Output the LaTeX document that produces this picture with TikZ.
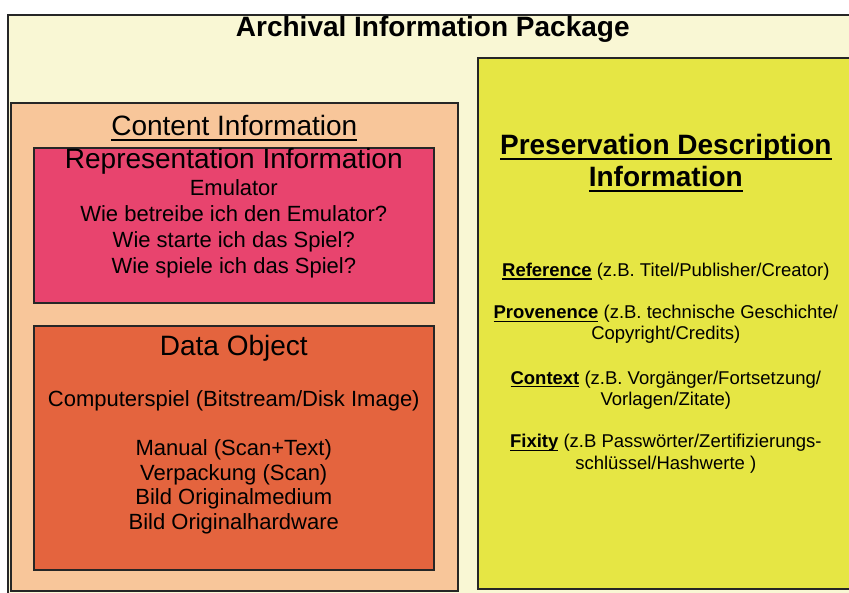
\documentclass[tikz,border=0pt]{standalone}
\usepackage{fontspec}
\setmainfont{Liberation Sans}
\usetikzlibrary{positioning}
\definecolor{aipcream}{RGB}{249,247,212}
\definecolor{cipeach}{RGB}{248,198,154}
\definecolor{ripink}{RGB}{232,68,110}
\definecolor{dored}{RGB}{228,100,62}
\definecolor{pdiyellow}{RGB}{230,230,68}
\newcommand{\ulbox}[1]{\leavevmode\setbox0=\hbox{#1}\rlap{\vrule width\wd0 height -0.11em depth 0.18em}\box0\relax}

\begin{document}
\begin{tikzpicture}[x=1pt, y=-1pt,
    box/.style={draw=black!85, line width=1.6pt, anchor=north west, inner sep=0pt},
    aipbox/.style={box, fill=aipcream},
    cibox/.style={box, fill=cipeach},
    ribox/.style={box, fill=ripink},
    dobox/.style={box, fill=dored},
    pdibox/.style={box, fill=pdiyellow},
    heading/.style={inner sep=0pt, align=center, font=\fontsize{28}{32}\selectfont},
    boldhead/.style={heading, font=\fontsize{28}{32}\selectfont\bfseries},
    bodytext/.style={inner sep=0pt, align=center, font=\fontsize{22}{26}\selectfont},
    listtext/.style={bodytext, font=\fontsize{22}{24.5}\selectfont},
    pditext/.style={inner sep=0pt, align=center, font=\fontsize{18.5}{21.5}\selectfont},
]
\useasboundingbox (0,0) rectangle (849,592);
\clip (0,0) rectangle (849,592);

\node[aipbox, minimum width=850pt, minimum height=600pt] (aip) at (7,14) {};
\node[cibox, minimum width=447pt, minimum height=488pt] (content) at (10,102) {};
\node[ribox, minimum width=400pt, minimum height=155pt] (repinfo) at (33,147) {};
\node[dobox, minimum width=400pt, minimum height=244pt] (dataobj) at (33,325) {};
\node[pdibox, minimum width=376pt, minimum height=531pt] (pdi) at (477,57) {};

\node[boldhead, below=2.5pt of aip.north] (aiptitle) {Archival Information Package};

\node[heading, below=13.5pt of content.north] (cititle) {\ulbox{Content Information}};
\node[heading, below=1.5pt of repinfo.north] (rititle) {Representation Information};
\node[bodytext, below=4pt of rititle] (rilines) {Emulator\\Wie betreibe ich den Emulator?\\Wie starte ich das Spiel?\\Wie spiele ich das Spiel?};
\node[heading, below=10.5pt of dataobj.north] (dotitle) {Data Object};
\node[bodytext, below=28pt of dotitle] (dogame) {Computerspiel (Bitstream/Disk Image)};
\node[listtext, below=28.5pt of dogame] (doextras) {Manual (Scan+Text)\\Verpackung (Scan)\\Bild Originalmedium\\Bild Originalhardware};

\node[boldhead, below=77.5pt of pdi.north] (pdititle) {\ulbox{Preservation Description}\\\ulbox{Information}};
\node[pditext, below=70.5pt of pdititle] (pdiref) {\ulbox{\bfseries Reference} (z.B. Titel/Publisher/Creator)};
\node[pditext, below=24.5pt of pdiref] (pdiprov) {\ulbox{\bfseries Provenence} (z.B. technische Geschichte/\\Copyright/Credits)};
\node[pditext, below=26.5pt of pdiprov] (pdicontext) {\ulbox{\bfseries Context} (z.B. Vorgänger/Fortsetzung/\\Vorlagen/Zitate)};
\node[pditext, below=24.5pt of pdicontext] (pdifix) {\ulbox{\bfseries Fixity} (z.B Passwörter/Zertifizierungs-\\schlüssel/Hashwerte )};
\end{tikzpicture}
\end{document}
